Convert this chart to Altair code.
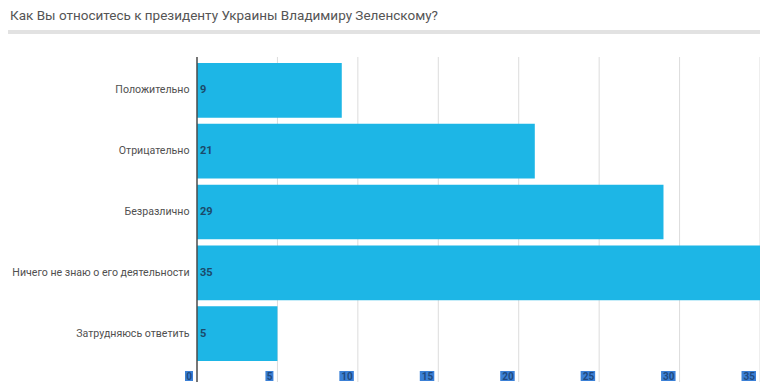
import altair as alt
import pandas as pd

title_text = "Как Вы относитесь к президенту Украины Владимиру Зеленскому?"
categories = [
    "Положительно",
    "Отрицательно",
    "Безразлично",
    "Ничего не знаю о его деятельности",
    "Затрудняюсь ответить",
]
values = [9, 21, 29, 35, 5]
ticks = [0, 5, 10, 15, 20, 25, 30, 35]

bars_df = pd.DataFrame({"cat": categories, "val": values})
ticks_df = pd.DataFrame({"t": ticks, "label": [str(t) for t in ticks]})
title_df = pd.DataFrame({"title": [title_text]})

W, H = 563, 304
PX_PER_UNIT = 563 / 35
xscale = alt.Scale(domain=[0, 35], nice=False, zero=True)
yscale = alt.Scale(domain=categories, paddingInner=0.1, paddingOuter=0.05)
FONT = "Roboto"

grid = alt.Chart(ticks_df).transform_filter("datum.t > 0").mark_rule(
    color="#dcdcdc", strokeWidth=1
).encode(
    x=alt.X("t:Q", scale=xscale, axis=None),
    y=alt.value(-3),
    y2=alt.value(322),
)

bars = alt.Chart(bars_df).mark_bar(color="#1db6e6").encode(
    y=alt.Y(
        "cat:N",
        sort=categories,
        scale=yscale,
        axis=alt.Axis(
            title=None, domain=False, ticks=False, grid=False,
            labelPadding=8, labelFontSize=10.6, labelColor="#505050",
            labelFont=FONT, labelLimit=300,
        ),
    ),
    x=alt.X("val:Q", scale=xscale, axis=None),
)

axis_line = alt.Chart(ticks_df).transform_filter("datum.t == 0").mark_rule(
    color="#4a4a4a", strokeWidth=1.5
).encode(
    x=alt.X("t:Q", scale=xscale, axis=None),
    y=alt.value(-3),
    y2=alt.value(322),
)

value_labels = alt.Chart(bars_df).mark_text(
    align="left", baseline="middle", dx=3, fontSize=11, fontWeight="bold",
    color="#1b4a6a", font=FONT,
).encode(
    y=alt.Y("cat:N", sort=categories, scale=yscale),
    x=alt.value(0),
    text=alt.Text("val:Q"),
)

tick_boxes = alt.Chart(ticks_df).transform_calculate(
    w="length(datum.label) * 6.5 + 1.5"
).transform_calculate(
    x1="datum.t - (4 + datum.w) / %f" % PX_PER_UNIT,
    x2="datum.t - 4 / %f" % PX_PER_UNIT,
).mark_rect(color="#3b80d6").encode(
    x=alt.X("x1:Q", scale=xscale, axis=None),
    x2="x2:Q",
    y=alt.value(311),
    y2=alt.value(321),
)

tick_text = alt.Chart(ticks_df).mark_text(
    align="right", baseline="middle", dx=-5, dy=1, fontSize=10,
    fontWeight="bold", color="#1f4a80", font=FONT,
).encode(
    x=alt.X("t:Q", scale=xscale, axis=None),
    y=alt.value(316),
    text="label:N",
)

title_rule = alt.Chart(title_df).mark_rule(color="#e2e2e2", strokeWidth=4).encode(
    x=alt.value(-189), x2=alt.value(W), y=alt.value(-28)
)

title = alt.Chart(title_df).mark_text(
    align="left", baseline="alphabetic", fontSize=13.5, color="#555555", font=FONT,
).encode(
    x=alt.value(-187), y=alt.value(-40), text="title:N"
)

chart = alt.layer(
    grid, bars, axis_line, value_labels, tick_boxes, tick_text, title_rule, title
).properties(
    width=W,
    height=H,
    autosize=alt.AutoSizeParams(type="none"),
    padding={"left": 189, "top": 52, "right": 0, "bottom": 18},
    background="white",
).configure_view(stroke=None)

chart.save("out.html", embed_options={"renderer": "svg", "actions": False})
